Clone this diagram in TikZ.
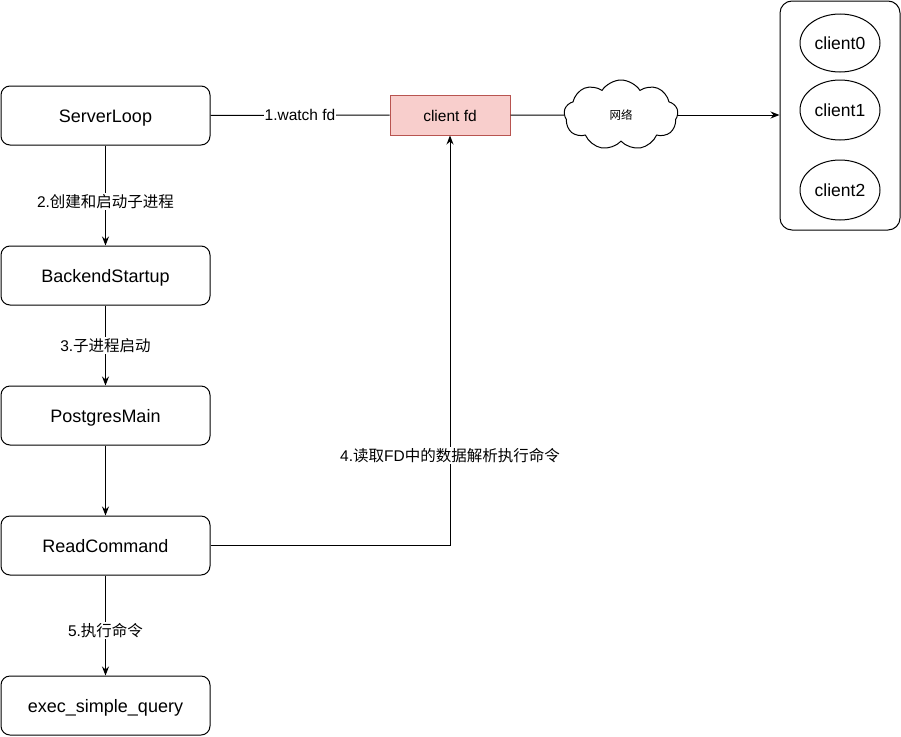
\documentclass[tikz,border=0pt]{standalone}
\usepackage{fontspec}
\setmainfont{Liberation Sans}
\newfontfamily\cjk{Noto Sans CJK SC}
\usetikzlibrary{arrows.meta, positioning, shapes.geometric, shapes.symbols}
\definecolor{fdfill}{HTML}{F8CECC}
\definecolor{fdline}{HTML}{B85450}

\begin{document}
\begin{tikzpicture}[
  x=1pt, y=-1pt,
  line width=1pt,
  stepbox/.style={rectangle, draw, rounded corners=9pt, minimum width=209pt,
                  minimum height=59pt, text height=13.5pt, text depth=0pt,
                  font=\fontsize{18}{21}\selectfont},
  client/.style={ellipse, draw, minimum width=80pt, minimum height=58pt,
                 inner sep=0pt, text height=13pt, text depth=0pt,
                 font=\fontsize{17.5}{20}\selectfont},
  lbl/.style={fill=white, inner sep=1pt, font=\fontsize{15.5}{18}\selectfont},
  flow/.style={-{Stealth[length=9pt, width=7pt]}},
  every node/.style={inner sep=4pt}
]
\useasboundingbox (0,0) rectangle (901,736);

% Process column
\node[stepbox] (loop)    at (105.5,115.5) {ServerLoop};
\node[stepbox] (startup) at (105.5,275.5) {BackendStartup};
\node[stepbox] (pgmain)  at (105.5,415.5) {PostgresMain};
\node[stepbox] (readcmd) at (105.5,545.5) {ReadCommand};
\node[stepbox] (exec)    at (105.5,705.5) {exec\_simple\_query};

% Socket, network and clients
\node[rectangle, draw=fdline, fill=fdfill, minimum width=120pt, minimum height=40pt,
      text height=12pt, text depth=0pt, font=\fontsize{15.5}{18}\selectfont] (fd) at (450,115) {client fd};
\node[cloud, draw, cloud puffs=9, cloud puff arc=115, aspect=1.6, minimum width=114pt,
      minimum height=70pt, inner sep=0pt, font=\cjk\fontsize{11.5}{14}\selectfont] (net) at (621,115) {网络};
\node[rectangle, draw, rounded corners=12pt, minimum width=120pt,
      minimum height=229pt] (pool) at (840,115.5) {};
\node[client] (c0) at (840,43)  {client0};
\node[client, minimum height=60pt] (c1) at (840,110) {client1};
\node[client, minimum height=60pt] (c2) at (840,190) {client2};

% Edges
\draw (loop) -- node[lbl] {1.watch fd} (fd);
\draw (fd) -- (net);
\draw[flow] (net.east) -- (pool.west |- net.east);
\draw[flow] (loop) -- node[lbl, pos=0.56] {2.{\cjk 创建和启动子进程}} (startup);
\draw[flow] (startup) -- node[lbl] {3.{\cjk 子进程启动}} (pgmain);
\draw[flow] (pgmain) -- (readcmd);
\draw[flow] (readcmd) -- node[lbl, pos=0.55] {5.{\cjk 执行命令}} (exec);
\draw[flow] (readcmd.east) -| coordinate[pos=0.61] (mid) (fd.south);
\node[lbl] (readlbl) at (mid) {4.{\cjk 读取}FD{\cjk 中的数据解析执行命令}};
\end{tikzpicture}
\end{document}
